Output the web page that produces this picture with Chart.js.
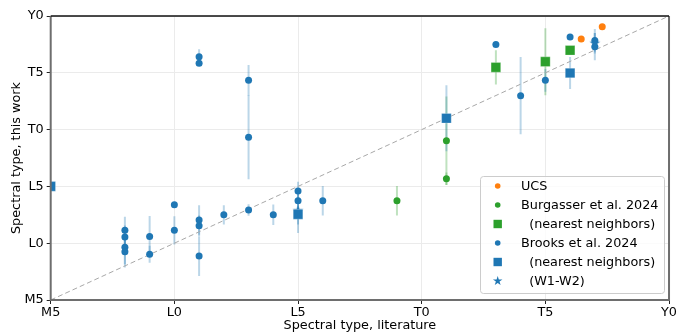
<!DOCTYPE html>
<html><head><meta charset="utf-8">
<script src="https://cdn.jsdelivr.net/npm/chart.js@4.4.0/dist/chart.umd.min.js"></script>
<style>html,body{margin:0;padding:0;background:#fff}#wrap{width:678px;height:336px;position:relative}</style>
</head><body><div id="wrap"><canvas id="c"></canvas></div>
<script>
// spectral type index: M5=-5, L0=0, L5=5, T0=10, T5=15, Y0=20
const tickValues = [-5, 0, 5, 10, 15, 20];
const tickLabels = ['M5', 'L0', 'L5', 'T0', 'T5', 'Y0'];

const ucsX = [16.45, 17.3];
const ucsY = [17.98, 19.06];

const burgX = [9, 11, 11];
const burgY = [3.74, 9.02, 5.68];
const burgErr = [1.3, 3.9, 0.55];

const burgNNX = [13, 15, 16];
const burgNNY = [15.48, 15.98, 16.98];
const burgNNErr = [1.5, 2.95, 0];

const brooksX = [-2, -2, -2, -2, -1, -1, 0, 0, 1, 1, 1, 1, 1, 2, 3, 3, 3, 4, 5, 5, 6, 13, 14, 15, 16, 17, 17];
const brooksY = [1.13, 0.55, -0.36, -0.75, 0.6, -0.98, 3.39, 1.13, 16.42, 15.84, 2.04, 1.54, -1.13, 2.5, 14.34, 9.32, 2.92, 2.5, 4.6, 3.74, 3.74, 17.5, 12.99, 14.34, 18.15, 17.85, 17.3];
const brooksErr = [1.2, 1.0, 1.5, 1.4, 1.8, 0.75, 0, 1.25, 0.65, 0, 1.3, 0.9, 1.75, 0.85, 1.35, 3.7, 0.5, 0.9, 0.8, 0.8, 1.3, 0, 3.4, 1.0, 0, 1.0, 1.2];

const brooksNNX = [-5, 5, 11, 16];
const brooksNNY = [5, 2.54, 11, 14.98];
const brooksNNErr = [0, 0.9, 2.9, 1.4];

const w1w2X = [5, 17];
const w1w2Y = [2.85, 17.6];
const w1w2Err = [1.95, 0.9];

const BLUE = '#1f77b4', ORANGE = '#ff7f0e', GREEN = '#2ca02c';
const FONT = 'DejaVu Sans';
const FSIZE = 12.8;

function starPath(ctx, cx, cy, R) {
  const r = R * 0.382;
  ctx.beginPath();
  for (let i = 0; i < 10; i++) {
    const a = -Math.PI / 2 + i * Math.PI / 5;
    const rr = i % 2 === 0 ? R : r;
    const px = cx + rr * Math.cos(a), py = cy + rr * Math.sin(a);
    if (i === 0) ctx.moveTo(px, py); else ctx.lineTo(px, py);
  }
  ctx.closePath();
}
function makeStar(R, color) {
  const c = document.createElement('canvas');
  const s = Math.ceil(2 * R + 2);
  c.width = s; c.height = s;
  const ctx = c.getContext('2d');
  ctx.fillStyle = color;
  starPath(ctx, s / 2, s / 2, R);
  ctx.fill();
  return c;
}
const starImg = makeStar(5.5, BLUE);

const pts = (xs, ys) => xs.map((x, i) => ({ x: x, y: ys[i] }));

const errGroups = [
  { xs: burgX, ys: burgY, es: burgErr, color: 'rgba(44,160,44,0.3)' },
  { xs: burgNNX, ys: burgNNY, es: burgNNErr, color: 'rgba(44,160,44,0.3)' },
  { xs: brooksX, ys: brooksY, es: brooksErr, color: 'rgba(31,119,180,0.3)' },
  { xs: brooksNNX, ys: brooksNNY, es: brooksNNErr, color: 'rgba(31,119,180,0.3)' },
  { xs: w1w2X, ys: w1w2Y, es: w1w2Err, color: 'rgba(31,119,180,0.3)' }
];

const errorBarPlugin = {
  id: 'errbars',
  beforeDatasetsDraw(chart) {
    const { ctx, chartArea: a, scales: { x, y } } = chart;
    ctx.save();
    ctx.beginPath(); ctx.rect(a.left, a.top, a.right - a.left, a.bottom - a.top); ctx.clip();
    ctx.lineWidth = 2;
    errGroups.forEach(g => {
      ctx.strokeStyle = g.color;
      g.xs.forEach((xv, i) => {
        if (!g.es[i]) return;
        const px = x.getPixelForValue(xv);
        ctx.beginPath();
        ctx.moveTo(px, y.getPixelForValue(g.ys[i] - g.es[i]));
        ctx.lineTo(px, y.getPixelForValue(g.ys[i] + g.es[i]));
        ctx.stroke();
      });
    });
    ctx.restore();
  }
};

const spinePlugin = {
  id: 'spines',
  afterDatasetsDraw(chart) {
    const { ctx, chartArea: a } = chart;
    ctx.save();
    ctx.lineWidth = 2;
    ctx.strokeStyle = '#6e6e6e';
    ctx.beginPath();
    ctx.moveTo(a.left, a.top); ctx.lineTo(a.left, a.bottom); ctx.lineTo(a.right, a.bottom); ctx.lineTo(a.right, a.top);
    ctx.stroke();
    ctx.lineWidth = 1.5;
    ctx.strokeStyle = '#111';
    ctx.beginPath(); ctx.moveTo(a.left, a.top); ctx.lineTo(a.right, a.top); ctx.stroke();
    ctx.restore();
  }
};

const legendItems = [
  { label: 'UCS', kind: 'dot', color: ORANGE },
  { label: 'Burgasser et al. 2024', kind: 'dot', color: GREEN },
  { label: '  (nearest neighbors)', kind: 'sq', color: GREEN },
  { label: 'Brooks et al. 2024', kind: 'dot', color: BLUE },
  { label: '  (nearest neighbors)', kind: 'sq', color: BLUE },
  { label: '  (W1-W2)', kind: 'star', color: BLUE }
];
const legendPlugin = {
  id: 'customLegend',
  afterDraw(chart) {
    const ctx = chart.ctx;
    const bx = 480, by = 176, bw = 184, bh = 117;
    ctx.save();
    ctx.beginPath();
    ctx.roundRect(bx + 0.5, by + 0.5, bw, bh, 3);
    ctx.fillStyle = 'rgba(255,255,255,0.8)';
    ctx.fill();
    ctx.strokeStyle = '#cccccc';
    ctx.lineWidth = 1;
    ctx.stroke();
    ctx.font = FSIZE + 'px "' + FONT + '"';
    ctx.textBaseline = 'middle';
    ctx.textAlign = 'left';
    legendItems.forEach((it, i) => {
      const cy = 186 + i * 19, cx = 497.7;
      ctx.fillStyle = it.color;
      if (it.kind === 'dot') { ctx.beginPath(); ctx.arc(cx, cy, 2.8, 0, Math.PI * 2); ctx.fill(); }
      else if (it.kind === 'sq') { ctx.fillRect(cx - 4.2, cy - 4.2, 8.4, 8.4); }
      else { starPath(ctx, cx, cy, 5); ctx.fill(); }
      ctx.fillStyle = '#000';
      ctx.fillText(it.label, 521, cy + 0.5);
    });
    ctx.restore();
  }
};

const tickFont = { family: FONT, size: FSIZE };

new Chart(document.getElementById('c'), {
  type: 'scatter',
  data: {
    datasets: [
      { label: 'diag', type: 'line', data: [{ x: tickValues[0], y: tickValues[0] }, { x: tickValues[tickValues.length - 1], y: tickValues[tickValues.length - 1] }],
        borderColor: '#a8a8a8', borderWidth: 1, borderDash: [5, 3], pointRadius: 0, fill: false, order: 10 },
      { label: 'UCS', data: pts(ucsX, ucsY), backgroundColor: ORANGE, borderWidth: 0, pointRadius: 3.5, order: 1, clip: 0 },
      { label: 'Burgasser et al. 2024', data: pts(burgX, burgY), backgroundColor: GREEN, borderWidth: 0, pointRadius: 3.5, order: 3, clip: 0 },
      { label: '(nearest neighbors)', data: pts(burgNNX, burgNNY), backgroundColor: GREEN, borderColor: 'rgba(255,255,255,0.5)', borderWidth: 0.5, pointStyle: 'rect', pointRadius: 6.8, order: 2, clip: 0 },
      { label: 'Brooks et al. 2024', data: pts(brooksX, brooksY), backgroundColor: BLUE, borderWidth: 0, pointRadius: 3.5, order: 6, clip: 0 },
      { label: '(nearest neighbors)', data: pts(brooksNNX, brooksNNY), backgroundColor: BLUE, borderColor: 'rgba(255,255,255,0.5)', borderWidth: 0.5, pointStyle: 'rect', pointRadius: 6.8, order: 4, clip: 0 },
      { label: '(W1-W2)', data: pts(w1w2X, w1w2Y), backgroundColor: BLUE, pointStyle: starImg, pointRadius: 5.5, order: 5, clip: 0 }
    ]
  },
  options: {
    responsive: true,
    maintainAspectRatio: false,
    animation: false,
    devicePixelRatio: 1,
    layout: { padding: { top: 16, right: 7.3, left: 0, bottom: 0 } },
    plugins: { legend: { display: false }, tooltip: { enabled: false } },
    scales: {
      x: {
        type: 'linear', min: tickValues[0], max: tickValues[tickValues.length - 1],
        afterBuildTicks: s => { s.ticks = tickValues.map(v => ({ value: v })); },
        afterFit: s => { s.height = 36; },
        ticks: { callback: (v, i) => tickLabels[i], color: '#000', font: tickFont, padding: 1, maxRotation: 0, autoSkip: false },
        grid: { color: '#ebebeb', tickColor: '#222', tickLength: 4, lineWidth: 1 },
        border: { display: false },
        title: { display: true, text: 'Spectral type, literature', color: '#000', font: tickFont, padding: { top: 2.5, bottom: 2.5 } }
      },
      y: {
        type: 'linear', min: tickValues[0], max: tickValues[tickValues.length - 1],
        afterBuildTicks: s => { s.ticks = tickValues.map(v => ({ value: v })); },
        afterFit: s => { s.width = 50.7; },
        ticks: { callback: (v, i) => tickLabels[i], color: '#000', font: tickFont, padding: 3, autoSkip: false },
        grid: { color: '#ebebeb', tickColor: '#222', tickLength: 4, lineWidth: 1 },
        border: { display: false },
        title: { display: true, text: 'Spectral type, this work', color: '#000', font: tickFont, padding: { top: 8.5, bottom: 8.5 } }
      }
    }
  },
  plugins: [errorBarPlugin, spinePlugin, legendPlugin]
});
</script>
</body></html>
